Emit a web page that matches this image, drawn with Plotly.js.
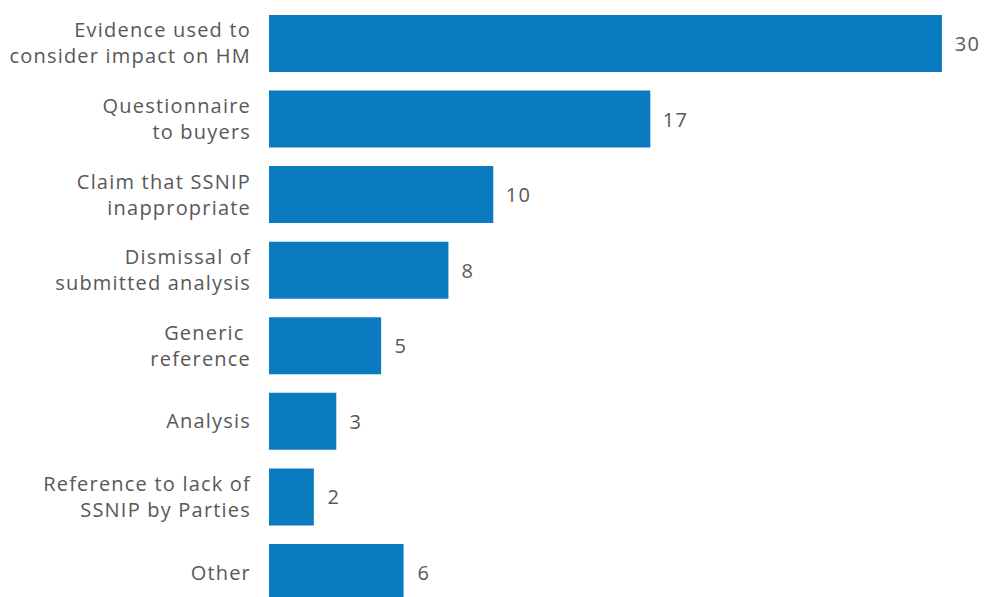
<!DOCTYPE html>
<html>
<head>
<meta charset="utf-8">
<script src="https://cdn.plot.ly/plotly-3.0.1.min.js"></script>
<style>
html,body{margin:0;padding:0;background:#fff;}
#chart{width:985px;height:597px;}
#chart .ytick text, #chart .annotation-text{letter-spacing:1.2px;}
</style>
</head>
<body>
<div id="chart"></div>
<script>
const categories = [
  "Evidence used to<br>consider impact on HM",
  "Questionnaire<br>to buyers",
  "Claim that SSNIP<br>inappropriate",
  "Dismissal of<br>submitted analysis",
  "Generic <br>reference",
  "Analysis",
  "Reference to lack of<br>SSNIP by Parties",
  "Other"
];
const values = [30, 17, 10, 8, 5, 3, 2, 6];

const textColor = "#585858";
const barColor = "#0a7bbf";
const fontFamily = "'Open Sans', Lato, sans-serif";

const trace = {
  type: "bar",
  orientation: "h",
  x: values,
  y: categories,
  marker: { color: barColor },
  hoverinfo: "none"
};

const annotations = values.map((v, i) => ({
  x: v, y: categories[i], xref: "x", yref: "y",
  text: String(v), showarrow: false,
  xanchor: "left", xshift: 12,
  font: { family: fontFamily, size: 20, color: textColor }
}));

const layout = {
  width: 985, height: 597,
  margin: { l: 269, r: 9, t: 0, b: 0, pad: 0 },
  paper_bgcolor: "#ffffff",
  plot_bgcolor: "#ffffff",
  bargap: 0.246,
  showlegend: false,
  xaxis: {
    range: [0, 31.52],
    showgrid: false, zeroline: false, showline: false,
    showticklabels: false, ticks: ""
  },
  yaxis: {
    type: "category",
    range: [7.324, -0.575],
    showgrid: false, zeroline: false, showline: false,
    ticks: "",
    ticklabelstandoff: 17,
    tickfont: { family: fontFamily, size: 20, color: textColor }
  },
  annotations: annotations
};

Plotly.newPlot("chart", [trace], layout, { displayModeBar: false, staticPlot: true });
</script>
</body>
</html>
